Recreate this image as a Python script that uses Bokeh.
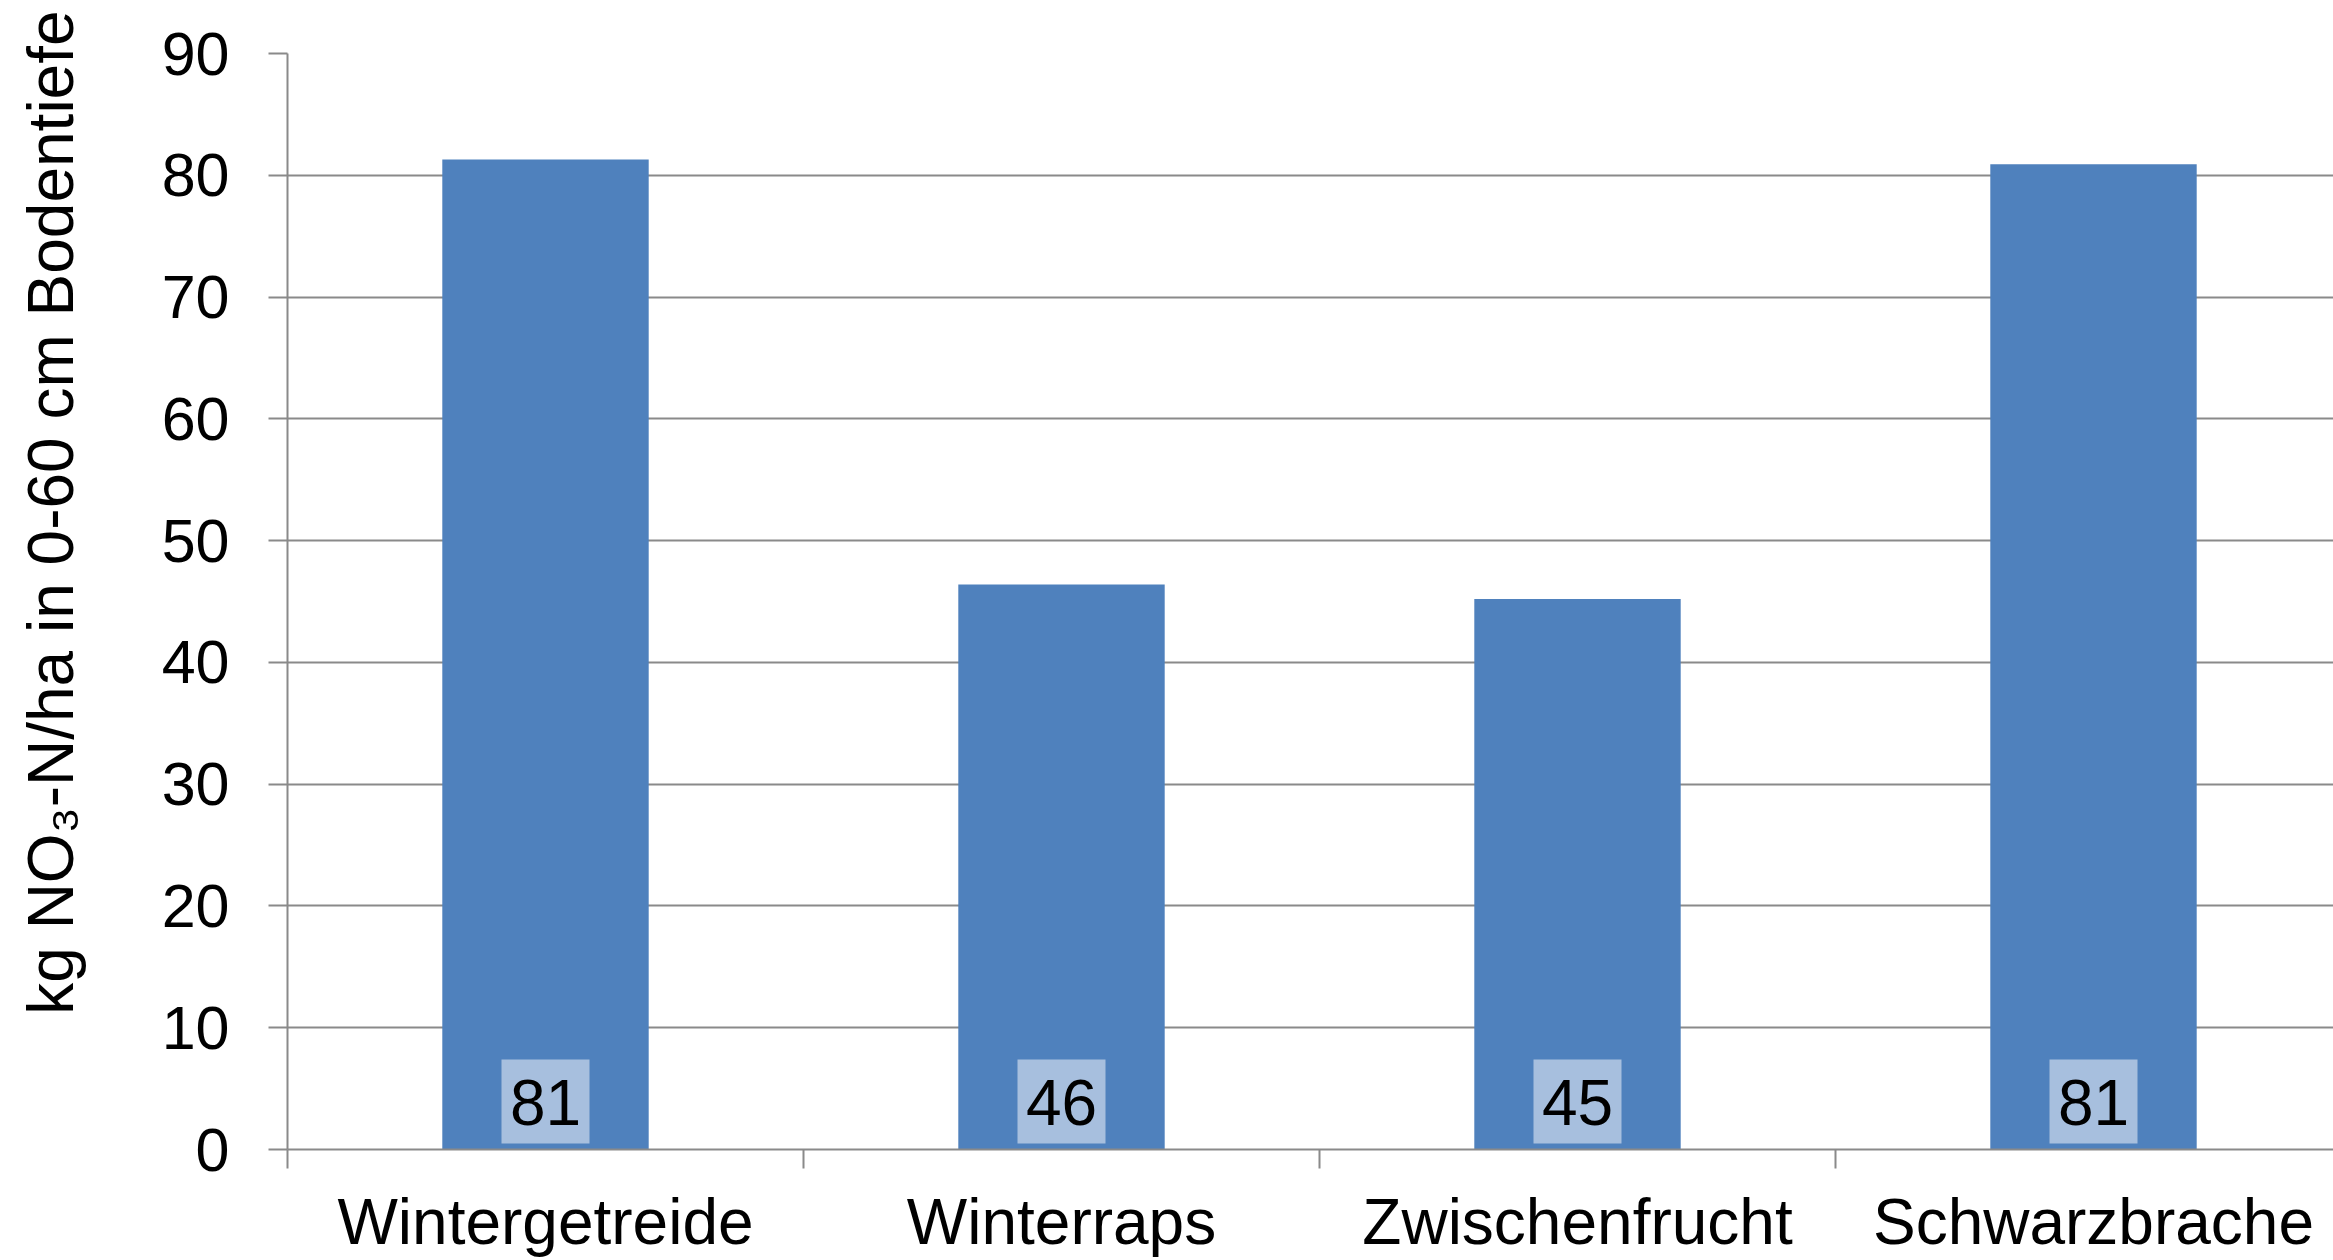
from bokeh.plotting import figure
from bokeh.models import Range1d, FixedTicker, ColumnDataSource
from bokeh.core.properties import value
from bokeh.embed import file_html
from bokeh.resources import INLINE

# Nitrate-N in 0-60 cm soil depth by autumn land use
categories = ["Wintergetreide", "Winterraps", "Zwischenfrucht", "Schwarzbrache"]
nitrate_n = [81.3, 46.4, 45.2, 80.9]
y_ticks = [0, 10, 20, 30, 40, 50, 60, 70, 80, 90]
y_title = "kg NO\u2083-N/ha in 0-60 cm Bodentiefe"

FONT = "Liberation Sans"
BAR = "#4F81BD"
LABEL_BG = "#A7BFDE"
AXIS_GRAY = "#8A8A8A"

W, H = 2333, 1260
LEFT, RIGHT, TOP, BOTTOM = 287, 0, 53, 111
cat_px = 516.0                     # width of one category slot in pixels
frame_w = W - LEFT - RIGHT

centers = [i + 0.5 for i in range(len(categories))]
src = ColumnDataSource(dict(
    x=centers,
    top=nitrate_n,
    txt=[f"{round(v):d}" for v in nitrate_n],
))

p = figure(width=W, height=H, output_backend="svg", toolbar_location=None,
           x_range=Range1d(0, frame_w / cat_px), y_range=Range1d(0, 90),
           min_border_left=LEFT, min_border_right=RIGHT,
           min_border_top=TOP, min_border_bottom=BOTTOM,
           background_fill_color="white", border_fill_color="white")
p.outline_line_color = None
p.xgrid.grid_line_color = None
p.ygrid.grid_line_color = AXIS_GRAY
p.ygrid.grid_line_width = 2
p.ygrid.ticker = FixedTicker(ticks=y_ticks)

# bars
p.vbar(x="x", top="top", width=0.40, source=src, fill_color=BAR, line_color=None)

# value labels at the foot of each bar
p.rect(x="x", y=3.94, width=88, height=6.9, width_units="screen", height_units="data",
       source=src, fill_color=LABEL_BG, line_color=None)
p.text(x="x", y=3.86, text="txt", source=src,
       text_align="center", text_baseline="middle",
       text_font=value(FONT), text_font_size="64px", text_color="black")

# y axis; the title sits a little below the centre of the axis, so it is
# led by non-breaking spaces
ya = p.yaxis[0]
ya.ticker = FixedTicker(ticks=y_ticks)
ya.axis_line_color = AXIS_GRAY
ya.axis_line_width = 2
ya.major_tick_line_color = AXIS_GRAY
ya.major_tick_line_width = 2
ya.major_tick_in = 0
ya.major_tick_out = 19
ya.minor_tick_line_color = None
ya.major_label_standoff = 39
ya.major_label_text_font = FONT
ya.major_label_text_font_size = "61px"
ya.major_label_text_color = "black"
ya.axis_label = "\u00a0" * 10 + y_title
ya.axis_label_standoff = 72
ya.axis_label_text_font = FONT
ya.axis_label_text_font_size = "64px"
ya.axis_label_text_font_style = "normal"
ya.axis_label_text_color = "black"

# x axis: names at slot centres, tick marks on slot boundaries
xa = p.xaxis[0]
xa.ticker = FixedTicker(ticks=centers, minor_ticks=list(range(len(categories))))
xa.major_label_overrides = {c: name for c, name in zip(centers, categories)}
xa.axis_line_color = AXIS_GRAY
xa.axis_line_width = 2
xa.major_tick_line_color = None
xa.major_tick_in = 0
xa.major_tick_out = 0
xa.minor_tick_line_color = AXIS_GRAY
xa.minor_tick_line_width = 2
xa.minor_tick_in = 0
xa.minor_tick_out = 19
xa.major_label_standoff = 17
xa.major_label_text_font = FONT
xa.major_label_text_font_size = "64px"
xa.major_label_text_color = "black"

open("out.html", "w").write(file_html(p, INLINE))
